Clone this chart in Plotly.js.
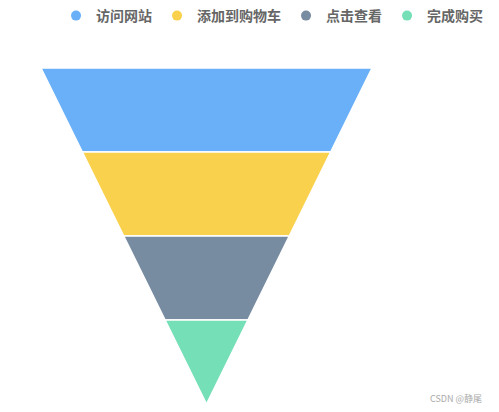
<!DOCTYPE html>
<html>
<head>
<meta charset="utf-8">
<script src="https://cdn.plot.ly/plotly-3.0.1.min.js"></script>
<style>html,body{margin:0;padding:0;background:#fff;}#chart{width:499px;height:412px;}</style>
</head>
<body>
<div id="chart"></div>
<script>
// Funnel stages (top to bottom) and their values (width of each stage's top edge)
const categories = ['访问网站', '添加到购物车', '点击查看', '完成购买'];
const values = [100, 75, 50, 25];
const colors = ['#6ab0f8', '#fad14c', '#788ca1', '#75dfb7'];

// funnelarea encodes area: each trapezoid spans from its own width to the next one's
const areas = values.map((v, i) => (v + (i + 1 < values.length ? values[i + 1] : 0)) / 2);

const traces = [{
  type: 'funnelarea',
  labels: categories,
  values: areas,
  customdata: values,
  text: values,
  textinfo: 'none',
  hovertemplate: '%{label}: %{customdata}<extra></extra>',
  baseratio: 0,
  aspectratio: 336 / 331,
  domain: {x: [41 / 499, 372 / 499], y: [8 / 412, 344 / 412]},
  marker: {colors: colors, line: {color: '#ffffff', width: 1.5}},
  showlegend: false
}];

// legend entries with round markers
categories.forEach((c, i) => {
  traces.push({
    type: 'scatter', mode: 'markers', name: c,
    x: [null], y: [null],
    marker: {color: colors[i], size: 10, symbol: 'circle'},
    hoverinfo: 'skip'
  });
});

const layout = {
  width: 499, height: 412,
  margin: {l: 0, r: 0, t: 0, b: 0},
  paper_bgcolor: '#fff', plot_bgcolor: '#fff',
  xaxis: {visible: false}, yaxis: {visible: false},
  showlegend: true,
  legend: {
    orientation: 'h', x: 0.978, xanchor: 'right', y: 1.0, yanchor: 'top',
    font: {family: '"Noto Sans CJK SC", sans-serif', size: 14, color: '#666', weight: 'bold'},
    itemclick: false, itemdoubleclick: false
  },
  annotations: [{
    xref: 'paper', yref: 'paper', x: 0.97, y: 0.012, xanchor: 'right', yanchor: 'bottom',
    text: 'CSDN @静尾', showarrow: false,
    font: {family: '"Noto Sans CJK SC", sans-serif', size: 9, color: '#aaa'}
  }]
};

Plotly.newPlot('chart', traces, layout, {displayModeBar: false});
</script>
</body>
</html>
